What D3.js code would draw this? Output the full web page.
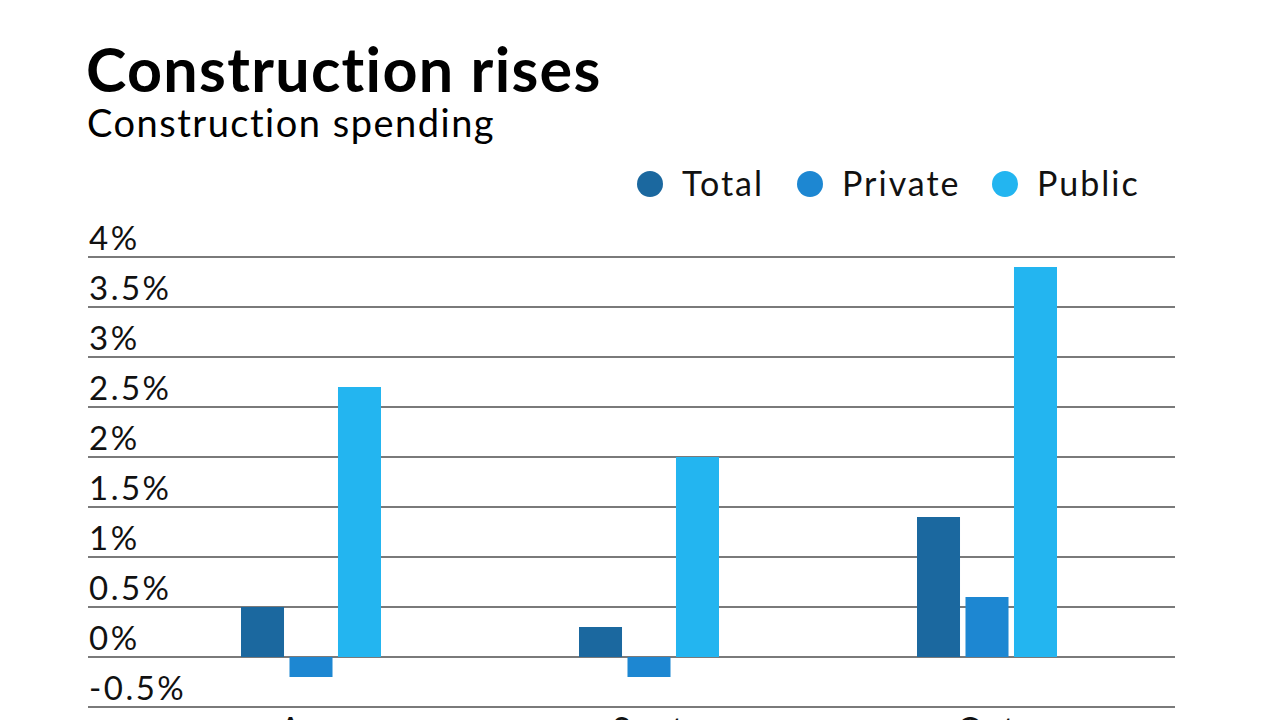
<!DOCTYPE html>
<html>
<head>
<meta charset="utf-8">
<script src="https://cdn.jsdelivr.net/npm/d3@7"></script>
<style>
  body { margin: 0; background: #fff; }
  svg { display: block; font-family: Lato, "Noto Sans", sans-serif; font-variant-ligatures: none; }
</style>
</head>
<body>
<svg id="chart" width="1280" height="720"></svg>
<script>
// --- data ---
const months = ["Aug", "Sept", "Oct"];
const seriesNames = ["Total", "Private", "Public"];
const totalVals = [0.5, 0.3, 1.4];
const privateVals = [-0.2, -0.2, 0.6];
const publicVals = [2.7, 2.0, 3.9];
const yTicks = [-0.5, 0, 0.5, 1, 1.5, 2, 2.5, 3, 3.5, 4];
const colors = ["#1b689f", "#1d87d2", "#23b5f0"];

const rows = months.map((m, i) => ({ month: m, Total: totalVals[i], Private: privateVals[i], Public: publicVals[i] }));

const svg = d3.select("#chart");

// titles
svg.append("text").attr("x", 86).attr("y", 92)
  .style("font-size", "61px").style("font-weight", 700).style("fill", "#000")
  .style("letter-spacing", "1.3px")
  .text("Construction rises");
svg.append("text").attr("x", 87).attr("y", 137)
  .style("font-size", "38px").style("fill", "#000")
  .style("letter-spacing", "1.5px")
  .text("Construction spending");

// scales
const x0 = d3.scaleBand().domain(months).range([142, 1156]);
const x1 = d3.scaleBand().domain(seriesNames).range([0, 140]).paddingInner(0.113);
const y = d3.scaleLinear().domain([-0.5, 4]).range([707, 257]);
const color = d3.scaleOrdinal().domain(seriesNames).range(colors);

// grid + tick labels
const grid = svg.append("g");
grid.selectAll("line").data(yTicks).join("line")
  .attr("x1", 88).attr("x2", 1175)
  .attr("y1", d => y(d)).attr("y2", d => y(d))
  .attr("stroke", "#7a7a7a").attr("stroke-width", 2);
grid.selectAll("text").data(yTicks).join("text")
  .attr("x", 89).attr("y", d => y(d) - 7)
  .style("font-size", "33px").style("fill", "#111")
  .style("letter-spacing", "2.5px")
  .text(d => d + "%");

// bars
const groups = svg.append("g").selectAll("g").data(rows).join("g")
  .attr("transform", d => `translate(${x0(d.month) + (x0.bandwidth() - 140) / 2},0)`);
groups.selectAll("rect").data(d => seriesNames.map(k => ({ key: k, value: d[k] }))).join("rect")
  .attr("x", d => x1(d.key))
  .attr("width", x1.bandwidth())
  .attr("y", d => y(Math.max(0, d.value)))
  .attr("height", d => Math.abs(y(d.value) - y(0)))
  .attr("fill", d => color(d.key));

// month labels (cut off at the bottom edge, as in the original)
svg.append("g").selectAll("text").data(months).join("text")
  .attr("x", d => x0(d) + x0.bandwidth() / 2).attr("y", 741)
  .attr("text-anchor", "middle")
  .style("font-size", "33px").style("fill", "#111")
  .style("letter-spacing", "2px")
  .text(d => d);

// legend
const legendX = [650, 810, 1005];
const legend = svg.append("g").selectAll("g").data(seriesNames).join("g")
  .attr("transform", (d, i) => `translate(${legendX[i]},184)`);
legend.append("circle").attr("r", 13).attr("fill", d => color(d));
legend.append("text").attr("x", 32).attr("y", 12)
  .style("font-size", "34px").style("fill", "#111")
  .style("letter-spacing", "2px")
  .text(d => d);
</script>
</body>
</html>
